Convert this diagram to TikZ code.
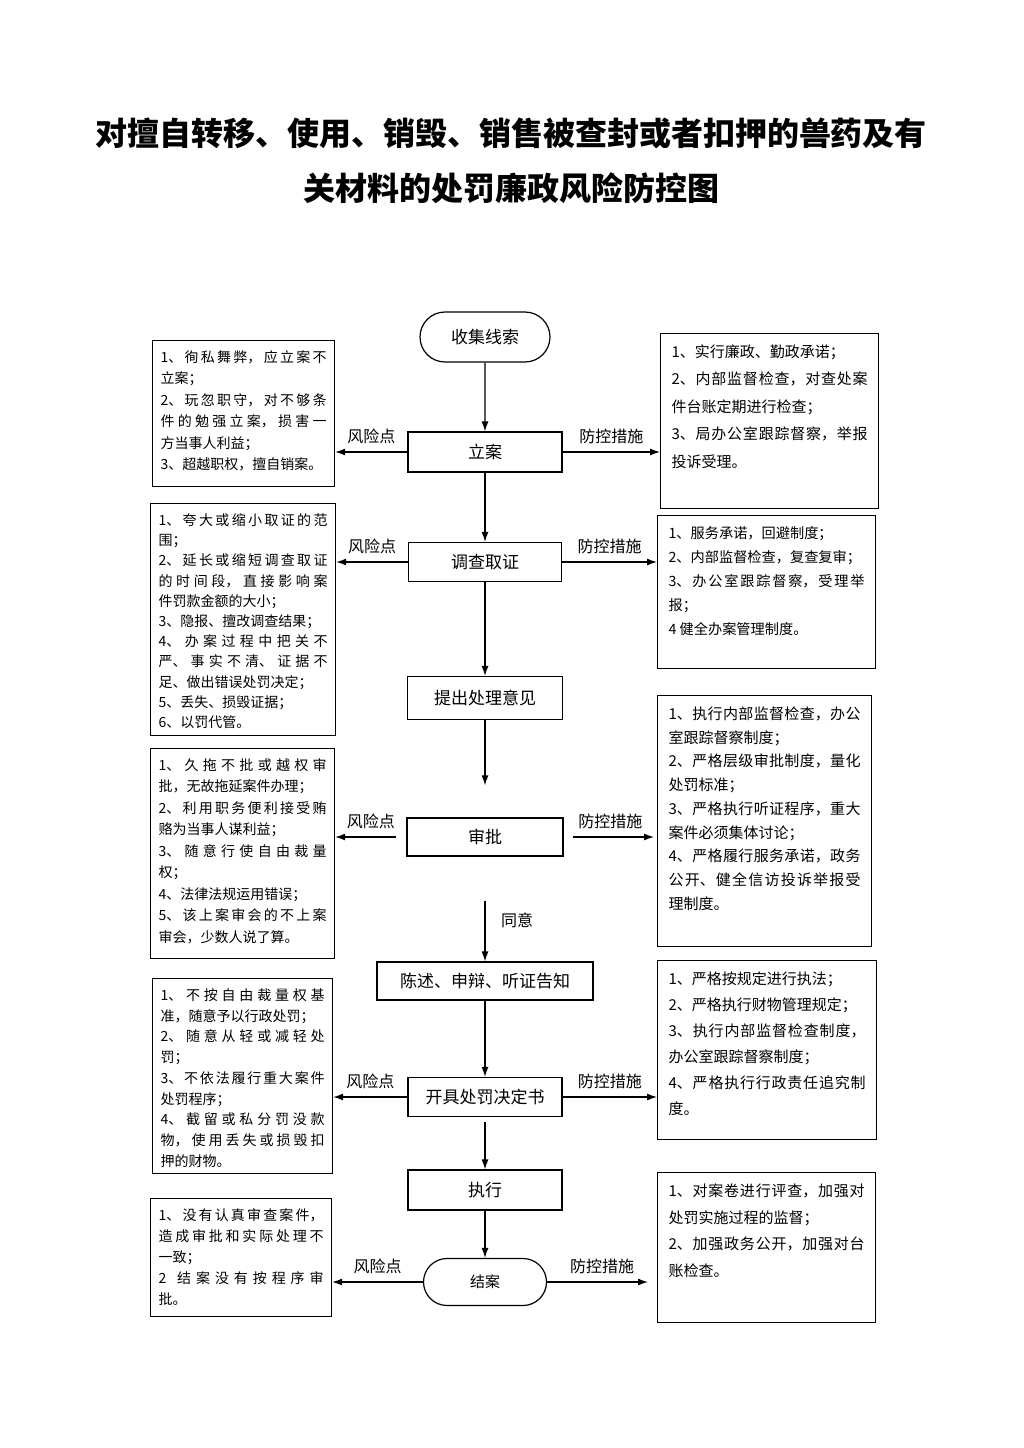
\documentclass[tikz,border=0pt]{standalone}
\usepackage{fontspec}
\setmainfont{Noto Sans CJK SC}
\usetikzlibrary{arrows.meta}
\usetikzlibrary{shapes.misc}
\usetikzlibrary{positioning}
\XeTeXlinebreaklocale "zh"
\XeTeXlinebreakskip=0pt plus 1pt
% text block of a side box: height, width, font size, line skip, text
\newcommand{\sidetext}[5]{\parbox[c][#1pt][t]{#2pt}{\fontsize{#3pt}{#4pt}\selectfont #5}}

\begin{document}
\begin{tikzpicture}[x=1pt, y=-1pt,
                    >={Latex[length=10pt,width=7pt]},
                    line width=1.2pt,
                    proc/.style={draw, rectangle, inner sep=0pt, font=\fontsize{17}{17}\selectfont},
                    term/.style={draw, rounded rectangle, inner sep=0pt, font=\fontsize{17}{17}\selectfont},
                    risk/.style={draw, anchor=north west, inner xsep=8pt, inner ysep=10pt},
                    measure/.style={draw, anchor=north west, inner xsep=11pt, inner ysep=11pt},
                    lbl/.style={above=4pt, font=\fontsize{16}{16}\selectfont}
                    ]
  \path[fill=white] (0,0) rectangle (1024,1448);
  \useasboundingbox (0,0) rectangle (1024,1448);

  % title
  \node[font=\fontsize{32}{32}\selectfont\bfseries] (title1) at (511,133) {对擅自转移、使用、销毁、销售被查封或者扣押的兽药及有};
  \node[font=\fontsize{32}{32}\selectfont\bfseries] (title2) at (511,188) {关材料的处罚廉政风险防控图};

  % main flow
  \node[term, minimum width=130, minimum height=50] (clue) at (485,337) {收集线索};
  \node[proc, minimum width=154, minimum height=40] (lian) at (485,452) {立案};
  \node[proc, minimum width=153, minimum height=39] (diaocha) at (485,562) {调查取证};
  \node[proc, minimum width=155, minimum height=43] (tichu) at (485,698) {提出处理意见};
  \node[proc, minimum width=156, minimum height=38] (shenpi) at (485,837) {审批};
  \node[proc, minimum width=216, minimum height=38] (chenshu) at (485,981) {陈述、申辩、听证告知};
  \node[proc, minimum width=154, minimum height=39] (kaiju) at (485,1097) {开具处罚决定书};
  \node[proc, minimum width=154, minimum height=40] (zhixing) at (485,1190) {执行};
  \node[term, minimum width=123, minimum height=47, font=\fontsize{15}{15}\selectfont] (jiean) at (485,1282) {结案};
  \node[font=\fontsize{16}{16}\selectfont] (agree) at (517,920) {同意};

  % risk points
  \node[risk] (r1) at (152,340) {\sidetext{126}{166}{14}{21.5}{1、徇私舞弊，应立案不\linebreak 立案；\\2、玩忽职守，对不够条\linebreak 件的勉强立案，损害一\linebreak 方当事人利益；\\3、超越职权，擅自销案。}};
  \node[risk] (r2) at (150,503) {\sidetext{212}{169}{14}{20.2}{1、夸大或缩小取证的范\linebreak 围；\\2、延长或缩短调查取证\linebreak 的时间段，直接影响案\linebreak 件罚款金额的大小；\\3、隐报、擅改调查结果；\\4、办案过程中把关不\linebreak 严、事实不清、证据不\linebreak 足、做出错误处罚决定；\\5、丢失、损毁证据；\\6、以罚代管。}};
  \node[risk] (r3) at (150,748) {\sidetext{190}{168}{14}{21.5}{1、久拖不批或越权审\linebreak 批，无故拖延案件办理；\\2、利用职务便利接受贿\linebreak 赂为当事人谋利益；\\3、随意行使自由裁量\linebreak 权；\\4、法律法规运用错误；\\5、该上案审会的不上案\linebreak 审会，少数人说了算。}};
  \node[risk] (r4) at (152,978) {\sidetext{175}{164}{14}{20.75}{1、不按自由裁量权基\linebreak 准，随意予以行政处罚；\\2、随意从轻或减轻处\linebreak 罚；\\3、不依法履行重大案件\linebreak 处罚程序；\\4、截留或私分罚没款\linebreak 物，使用丢失或损毁扣\linebreak 押的财物。}};
  \node[risk] (r5) at (150,1198) {\sidetext{98}{165}{14}{21}{1、没有认真审查案件，\linebreak 造成审批和实际处理不\linebreak 一致；\\2 结案没有按程序审\linebreak 批。}};

  % control measures
  \node[measure] (m1) at (660,333) {\sidetext{153}{196}{15}{27.5}{1、实行廉政、勤政承诺；\\2、内部监督检查，对查处案\linebreak 件台账定期进行检查；\\3、局办公室跟踪督察，举报\linebreak 投诉受理。}};
  \node[measure] (m2) at (657,515) {\sidetext{131}{196}{14.2}{24}{1、服务承诺，回避制度；\\2、内部监督检查，复查复审；\\3、办公室跟踪督察，受理举\linebreak 报；\\4 健全办案管理制度。}};
  \node[measure] (m3) at (657,695) {\sidetext{229}{192}{15}{23.75}{1、执行内部监督检查，办公\linebreak 室跟踪督察制度；\\2、严格层级审批制度，量化\linebreak 处罚标准；\\3、严格执行听证程序，重大\linebreak 案件必须集体讨论；\\4、严格履行服务承诺，政务\linebreak 公开、健全信访投诉举报受\linebreak 理制度。}};
  \node[measure] (m4) at (657,960) {\sidetext{157}{197}{15}{26}{1、严格按规定进行执法；\\2、严格执行财物管理规定；\\3、执行内部监督检查制度，\linebreak 办公室跟踪督察制度；\\4、严格执行行政责任追究制\linebreak 度。}};
  \node[measure] (m5) at (657,1172) {\sidetext{128}{196}{15}{26.7}{1、对案卷进行评查，加强对\linebreak 处罚实施过程的监督；\\2、加强政务公开，加强对台\linebreak 账检查。}};

  % flow arrows
  \draw[->] (clue) -- (lian);
  \draw[->] (lian) -- (diaocha);
  \draw[->] (diaocha) -- (tichu);
  \draw[->, shorten >=32pt] (tichu) -- (shenpi);
  \draw[->, shorten <=44pt] (shenpi) -- (chenshu);
  \draw[->] (chenshu) -- (kaiju);
  \draw[->, shorten <=5pt] (kaiju) -- (zhixing);
  \draw[->] (zhixing) -- (jiean);

  % side arrows
  \draw[->] (lian.west) -- node[lbl] (f1) {风险点} (lian.west -| r1.east);
  \draw[->] (lian.east) -- node[lbl] (c1) {防控措施} (lian.east -| m1.west);
  \draw[->] (diaocha.west) -- node[lbl] (f2) {风险点} (diaocha.west -| r2.east);
  \draw[->] (diaocha.east) -- node[lbl] (c2) {防控措施} (diaocha.east -| m2.west);
  \draw[->, shorten <=10pt] (shenpi.west) -- node[lbl] (f3) {风险点} (shenpi.west -| r3.east);
  \draw[->, shorten <=9pt, shorten >=3pt] (shenpi.east) -- node[lbl] (c3) {防控措施} (shenpi.east -| m3.west);
  \draw[->] (kaiju.west) -- node[lbl] (f4) {风险点} (kaiju.west -| r4.east);
  \draw[->] (kaiju.east) -- node[lbl] (c4) {防控措施} (kaiju.east -| m4.west);
  \draw[->] (jiean.west) -- node[lbl] (f5) {风险点} (jiean.west -| r5.east);
  \draw[->, shorten >=9pt] (jiean.east) -- node[lbl] (c5) {防控措施} (jiean.east -| m5.west);
\end{tikzpicture}
\end{document}
